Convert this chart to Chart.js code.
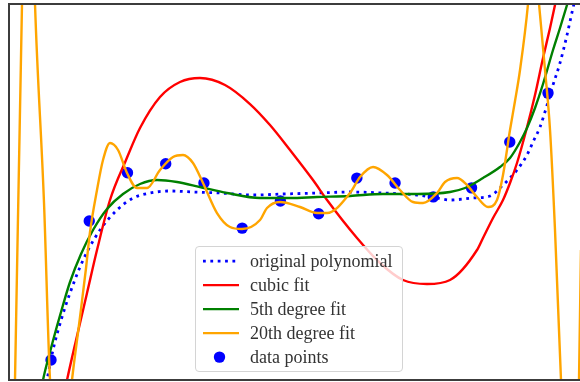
<!DOCTYPE html>
<html>
<head>
<meta charset="utf-8">
<script src="https://cdn.jsdelivr.net/npm/chart.js@4.4.1/dist/chart.umd.min.js"></script>
<style>
  body { margin: 0; background: #fff; }
  #wrap { position: relative; width: 580px; height: 382px; }
  #legend {
    position: absolute; left: 195px; top: 246px; width: 208px; height: 126px;
    box-sizing: border-box; border: 1px solid #d4d4d4; border-radius: 4px;
    background: rgba(255, 255, 255, 0.8);
    font-family: "Liberation Serif", serif; font-size: 18px; color: #333;
    padding-top: 1.5px;
  }
  .row { position: relative; height: 24.2px; line-height: 24.2px; white-space: nowrap; }
  .row svg { position: absolute; left: 6px; top: 0; }
  .row span { position: absolute; left: 54px; top: 0; }
</style>
</head>
<body>
<div id="wrap">
  <canvas id="fit" width="580" height="382"></canvas>
  <div id="legend"></div>
</div>
<script>
// sampled points
const pointX = [0, 1, 2, 3, 4, 5, 6, 7, 8, 9, 10, 11, 12, 13];
const pointY = [0.53, 4.23, 5.51, 5.75, 5.24, 4.04, 4.76, 4.42, 5.37, 5.24, 4.87, 5.11, 6.33, 7.63];

// original polynomial
const origX = [-0.235, -0.105, 0.052, 0.288, 0.497, 0.759, 0.968, 1.282, 1.726, 2.145, 2.590, 3.113, 3.714,
  4.421, 5.284, 6.069, 6.958, 7.821, 8.684, 9.574, 10.097, 10.437, 11.039, 11.483, 11.823, 12.006, 12.189,
  12.451, 12.608, 12.791, 13.0, 13.131, 13.314, 13.497, 13.654, 13.785];
const origY = [-0.665, 0, 0.798, 1.676, 2.314, 3.005, 3.457, 3.989, 4.521, 4.840, 4.973, 5.027, 5.0,
  4.973, 4.920, 4.947, 4.973, 5.0, 4.973, 4.920, 4.840, 4.787, 4.840, 4.894, 5.186, 5.372, 5.585,
  5.984, 6.330, 6.729, 7.394, 7.846, 8.431, 9.176, 9.894, 10.426];

// cubic fit
const cubicX = [0.288, 0.419, 0.680, 0.942, 1.203, 1.543, 1.962, 2.328, 2.851, 3.374, 3.897, 4.551, 5.205,
  5.728, 6.252, 6.853, 7.220, 8.004, 8.606, 9.208, 9.835, 10.437, 11.143, 11.300, 11.562, 11.823, 12.006,
  12.189, 12.425, 12.660, 12.870, 13.053, 13.183, 13.314];
const cubicY = [-0.665, 0, 1.170, 2.314, 3.457, 4.787, 5.851, 6.702, 7.527, 7.926, 8.032, 7.846, 7.340,
  6.782, 6.117, 5.319, 4.787, 3.777, 3.112, 2.660, 2.553, 2.660, 3.457, 3.777, 4.309, 4.787, 5.239,
  5.771, 6.622, 7.580, 8.564, 9.362, 9.973, 10.638];

// 5th degree fit
const quinticX = [-0.340, -0.209, -0.026, 0.157, 0.314, 0.497, 0.785, 1.099, 1.465, 1.883, 2.328, 2.773,
  3.296, 3.897, 4.604, 5.467, 6.252, 6.958, 7.821, 8.684, 9.574, 10.437, 10.829, 11.300, 11.745, 12.006,
  12.268, 12.451, 12.660, 12.870, 13.131, 13.314, 13.497, 13.628];
const quinticY = [-0.798, 0, 0.745, 1.436, 1.995, 2.606, 3.351, 3.989, 4.548, 4.947, 5.213, 5.319,
  5.266, 5.133, 4.973, 4.840, 4.840, 4.867, 4.894, 4.947, 4.947, 5.0, 5.106, 5.372, 5.665, 5.904,
  6.330, 6.702, 7.234, 7.872, 8.777, 9.362, 9.973, 10.426];

// 20th degree fit
const deg20X = [-0.994, -0.942, -0.759, -0.602, -0.419, -0.183, -0.026, 0.131, 0.288, 0.419, 0.549, 0.759,
  0.916, 1.020, 1.203, 1.360, 1.543, 1.753, 1.988, 2.250, 2.511, 2.851, 3.191, 3.453, 3.714, 3.976,
  4.342, 4.682, 4.996, 5.467, 5.650, 5.990, 6.513, 6.958, 7.220, 7.821, 8.083, 8.423, 8.789, 9.129,
  9.469, 9.731, 10.097, 10.306, 10.620, 10.882, 11.143, 11.431, 11.666, 11.823, 12.006, 12.137, 12.268,
  12.477, 12.608, 12.765, 12.922, 13.053, 13.183, 13.340, 13.471, 13.602, 13.733, 13.811, 13.863, 13.915];
const deg20Y = [-2.660, 0, 10.0, 16.755, 10.0, 4.707, 0, -1.330, -1.995, -1.330, 0, 1.676,
  2.979, 3.936, 5.053, 5.851, 6.303, 6.117, 5.505, 5.106, 5.106, 5.585, 5.931, 5.984, 5.771, 5.239,
  4.441, 4.069, 4.016, 4.255, 4.574, 4.734, 4.601, 4.441, 4.441, 4.973, 5.399, 5.665, 5.452, 5.053,
  4.734, 4.707, 4.973, 5.266, 5.372, 5.186, 4.867, 4.601, 4.787, 5.452, 6.649, 7.420, 8.245,
  10.0, 11.702, 10.0, 8.245, 6.649, 3.989, 0, -2.660, -3.723, -2.394, 0, 3.457, 10.106];

const xRange = [-1.099, 13.837];
const yRange = [0, 10];

const series = [
  { label: 'original polynomial', xs: origX, ys: origY, color: '#0000ff', dash: [2.78, 4.58], width: 2.78 },
  { label: 'cubic fit', xs: cubicX, ys: cubicY, color: '#ff0000', width: 2.4 },
  { label: '5th degree fit', xs: quinticX, ys: quinticY, color: '#008000', width: 2.4 },
  { label: '20th degree fit', xs: deg20X, ys: deg20Y, color: '#ffa500', width: 2.4 }
];

const zip = (xs, ys) => xs.map((x, i) => ({ x, y: ys[i] }));

const datasets = series.map((s, i) => ({
  label: s.label,
  type: 'line',
  data: zip(s.xs, s.ys),
  borderColor: s.color,
  borderWidth: s.width,
  borderDash: s.dash || [],
  borderCapStyle: 'butt',
  pointRadius: 0,
  pointHoverRadius: 0,
  fill: false,
  cubicInterpolationMode: 'monotone',
  order: series.length - i
}));

datasets.push({
  label: 'data points',
  type: 'scatter',
  data: zip(pointX, pointY),
  backgroundColor: '#0000ff',
  borderWidth: 0,
  pointRadius: 5.7,
  pointHoverRadius: 5.7,
  order: series.length + 1
});

// axes frame on top of the curves (right edge sits off the canvas)
const frame = {
  id: 'frame',
  afterDatasetsDraw(chart) {
    const { ctx, chartArea: a } = chart;
    ctx.save();
    ctx.strokeStyle = '#3c3c3c';
    ctx.lineWidth = 2;
    ctx.beginPath();
    ctx.moveTo(a.right + 2, a.top);
    ctx.lineTo(a.left, a.top);
    ctx.lineTo(a.left, a.bottom);
    ctx.lineTo(a.right + 2, a.bottom);
    ctx.stroke();
    ctx.restore();
  }
};

new Chart(document.getElementById('fit'), {
  type: 'line',
  data: { datasets },
  options: {
    responsive: false,
    animation: false,
    devicePixelRatio: 1,
    layout: { autoPadding: false, padding: { left: 9, top: 4, right: 0, bottom: 2 } },
    scales: {
      x: { type: 'linear', min: xRange[0], max: xRange[1], display: false },
      y: { type: 'linear', min: yRange[0], max: yRange[1], display: false }
    },
    plugins: {
      legend: { display: false },
      tooltip: { enabled: false }
    }
  },
  plugins: [frame]
});

// legend box drawn in HTML
const legend = document.getElementById('legend');
const svgNS = 'http://www.w3.org/2000/svg';
const entries = series.concat([{ label: 'data points', marker: true, color: '#0000ff' }]);
entries.forEach(s => {
  const row = document.createElement('div');
  row.className = 'row';
  const svg = document.createElementNS(svgNS, 'svg');
  svg.setAttribute('width', '40');
  svg.setAttribute('height', '24.2');
  if (s.marker) {
    const c = document.createElementNS(svgNS, 'circle');
    c.setAttribute('cx', '17.5');
    c.setAttribute('cy', '12.1');
    c.setAttribute('r', '5.7');
    c.setAttribute('fill', s.color);
    svg.appendChild(c);
  } else {
    const l = document.createElementNS(svgNS, 'line');
    l.setAttribute('x1', '1');
    l.setAttribute('x2', '37');
    l.setAttribute('y1', '12.1');
    l.setAttribute('y2', '12.1');
    l.setAttribute('stroke', s.color);
    l.setAttribute('stroke-width', s.width);
    if (s.dash) l.setAttribute('stroke-dasharray', s.dash.join(' '));
    svg.appendChild(l);
  }
  const text = document.createElement('span');
  text.textContent = s.label;
  row.appendChild(svg);
  row.appendChild(text);
  legend.appendChild(row);
});
</script>
</body>
</html>
